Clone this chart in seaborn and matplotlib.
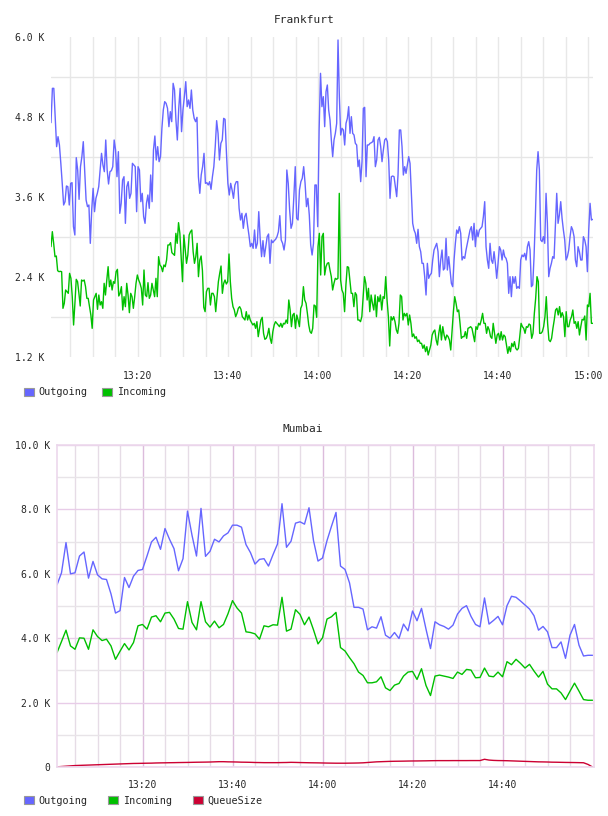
import numpy as np
import pandas as pd
import matplotlib.pyplot as plt
import seaborn as sns
from matplotlib.patches import Patch
from matplotlib.ticker import FixedLocator, FuncFormatter

# Frankfurt: dense samples, read in two halves (13:00:40 -> 14:01:10, 14:01:30 -> 15:01)
fra_half_a = (0.67, 61.18)
fra_half_b = (61.48, 121.04)
fra_outgoing_a = [
    4715, 5230, 5230, 4805, 4355, 4505, 4380, 4105, 3805, 3480, 3530, 3765, 3755, 3480, 3805, 3815,
    3155, 3030, 4190, 4005, 3565, 4055, 4205, 4430, 4005, 3555, 3455, 3480, 2905, 3405, 3730, 3380,
    3580, 3655, 3755, 4005, 4255, 4080, 3980, 4455, 4005, 3795, 3980, 3995, 4055, 4455, 4305, 3905,
    4280, 3355, 3505, 3855, 3905, 3205, 3755, 3830, 3580, 3655, 4105, 4080, 4055, 3380, 4055, 4005,
    3530, 3655, 3305, 3205, 3505, 3630, 3430, 3930, 3530, 4305, 4515, 4155, 4355, 4130, 4205, 4630,
    4905, 5030, 5005, 4930, 4655, 4880, 4730, 5305, 5205, 4755, 4455, 4930, 5230, 4580, 4905, 5105,
    5330, 4955, 5055, 4930, 5205, 4905, 4780, 4730, 4795, 3905, 3655, 3930, 4055, 4255, 3805, 3815,
    3780, 3830, 3715, 3905, 4055, 4355, 4745, 4555, 4155, 4405, 4455, 4780, 4765, 4255, 3805, 3630,
    3805, 3705, 3580, 3780, 3830, 3830, 3430, 3255, 3355, 3130, 3305, 3355, 3180, 3030, 2855, 2905,
    2830, 3105, 2830, 2905, 3380, 2980, 2705, 2945, 2705, 2855, 3005, 3045, 2605, 2955, 2915, 2945,
    2965, 3005, 3080, 3320, 2955, 2905, 2805, 2955, 4005, 3805, 3405, 3130, 3205, 3605, 4055, 3280,
    3255, 3705, 3830, 3880, 4055, 3805, 3455, 3580, 3330, 2880, 2730, 2905, 3780, 3780, 3155, 4605,
    5455, 4955, 5105,
]
fra_outgoing_b = [
    4655, 5180, 5280, 4905, 4755, 4455, 4205, 4455, 4555, 4705, 5955, 5105, 4530, 4630, 4605, 4380,
    4705, 4780, 4955, 4555, 4805, 4555, 4530, 4405, 4380, 4055, 4155, 3830, 4130, 4930, 4945, 3905,
    4380, 4380, 4405, 4415, 4430, 4505, 4055, 4155, 4455, 4495, 4355, 4130, 4305, 4455, 4480, 4430,
    4155, 3580, 3905, 3915, 3905, 3755, 3605, 3930, 4605, 4605, 4355, 3930, 4055, 3955, 4080, 4205,
    4105, 3655, 3205, 3105, 3055, 2905, 3115, 2855, 2780, 2605, 2605, 2405, 2130, 2605, 2380, 2430,
    2455, 2655, 2805, 2855, 2905, 2780, 2405, 2655, 2805, 2505, 2530, 2980, 2505, 2705, 2505, 2305,
    2255, 2655, 2905, 3105, 3055, 3155, 3055, 2655, 2705, 2680, 2805, 2905, 3005, 3105, 3155, 2955,
    3205, 2855, 3105, 3005, 3105, 3130, 3155, 3305, 3530, 2855, 2655, 2530, 2905, 2655, 2605, 2780,
    2605, 2380, 2605, 2855, 2805, 2655, 2805, 2705, 2680, 2605, 2155, 2405, 2105, 2405, 2305, 2405,
    2230, 2255, 2230, 2655, 2730, 2705, 2755, 2655, 2855, 2930, 2805, 2255, 2280, 2705, 3305, 4005,
    4280, 4005, 2955, 2930, 3005, 2905, 3655, 3205, 2405, 2530, 2605, 2705, 2680, 3155, 3655, 3205,
    3330, 3530, 3280, 3105, 2955, 2655, 2705, 2805, 3005, 3155, 3105, 3005, 2655, 2555, 2855, 2780,
    2655, 2655, 3005, 2955, 2855, 2480, 3105, 3505, 3255, 3265,
]
fra_incoming_a = [
    2855, 3080, 2905, 2705, 2715, 2495, 2480, 2485, 2480, 1930, 2005, 2205, 2180, 2155, 2455, 2380,
    2105, 1680, 2005, 2365, 2330, 2155, 1965, 2355, 2340, 2355, 2255, 2080, 2080, 1955, 1830, 1630,
    2055, 2105, 2155, 1915, 2130, 1980, 2030, 1930, 2305, 2130, 2355, 2555, 2255, 2355, 2205, 2330,
    2305, 2480, 2515, 2115, 2155, 2255, 1905, 2105, 1955, 2305, 2130, 1865, 2155, 2105, 1930, 2105,
    2305, 2430, 2355, 2305, 2230, 1980, 2505, 2130, 2105, 2315, 2080, 2130, 2305, 2205, 2105, 2380,
    2105, 2705, 2580, 2555, 2480, 2580, 2555, 2655, 2880, 2880, 2915, 2765, 2745, 2725, 3055, 2905,
    3215, 3055, 2705, 2330, 3030, 2815, 2605, 2730, 3030, 3080, 3105, 2780, 2605, 2705, 2905, 2405,
    2655, 2715, 2495, 1945, 1880, 2180, 2230, 2230, 1980, 2155, 2155, 2105, 1880, 2105, 2330, 2455,
    2565, 2155, 2305, 2355, 2295, 2330, 2745, 2330, 2080, 1955, 1905, 1805, 1855, 1930, 1955, 1915,
    1805, 1780, 1755, 1880, 1755, 1830, 1755, 1715, 1680, 1705, 1630, 1730, 1505, 1630, 1755, 1795,
    1555, 1465, 1480, 1530, 1630, 1480, 1405, 1580, 1680, 1730, 1705, 1680, 1655, 1705, 1645, 1705,
    1695, 1755, 1705, 2055, 1905, 1655, 1830, 1855, 1630, 1830, 1755, 1655, 1930, 1980, 2255, 2055,
    2005, 1855, 1680, 1580, 1555, 1630, 1980, 1965, 1795, 2855, 3055, 2430, 3005, 3055,
]
fra_incoming_b = [
    2430, 2555, 2605, 2615, 2505, 2405, 2205, 2305, 2380, 2365, 2380, 3655, 2355, 2205, 2155, 1880,
    2280, 2555, 2545, 2355, 2155, 2155, 1955, 2165, 2130, 1755, 1755, 1730, 1805, 2105, 2405, 2305,
    2055, 2230, 1880, 2130, 2005, 1905, 2130, 1805, 2105, 2030, 2130, 1905, 2105, 2080, 2405, 2055,
    1805, 1365, 1805, 1755, 1805, 1730, 1605, 1555, 1705, 2130, 2105, 1755, 1855, 1815, 1855, 1680,
    1830, 1705, 1505, 1545, 1480, 1505, 1430, 1455, 1405, 1405, 1330, 1380, 1280, 1355, 1230, 1305,
    1380, 1530, 1580, 1605, 1455, 1380, 1555, 1680, 1455, 1655, 1530, 1455, 1530, 1505, 1455, 1305,
    1605, 1880, 2105, 2005, 1880, 1905, 1705, 1480, 1505, 1505, 1580, 1480, 1630, 1640, 1655, 1630,
    1530, 1430, 1655, 1615, 1705, 1680, 1755, 1855, 1705, 1705, 1555, 1655, 1605, 1505, 1480, 1705,
    1555, 1405, 1530, 1555, 1455, 1580, 1455, 1530, 1505, 1380, 1255, 1355, 1280, 1405, 1355, 1430,
    1330, 1305, 1330, 1505, 1705, 1655, 1630, 1555, 1655, 1645, 1695, 1680, 1480, 1555, 1855, 2080,
    2405, 2330, 1555, 1555, 1580, 1655, 1805, 2105, 1705, 1455, 1430, 1480, 1630, 1755, 1905, 1930,
    1830, 1955, 1795, 1865, 1805, 1505, 1880, 1655, 1655, 1755, 1805, 1905, 1705, 1730, 1630, 1730,
    1530, 1655, 1765, 1755, 1815, 1455, 1980, 1955, 2155, 1705, 1705,
]

# Mumbai: one sample per minute, 13:01 -> 15:00
mum_minutes = list(range(1, 121))
mum_outgoing = [
    5656, 6031, 6969, 6000, 6031, 6552, 6677, 5865, 6385, 5969, 5844, 5823, 5375, 4781, 4854, 5885,
    5573, 5927, 6104, 6135, 6552, 6990, 7135, 6760, 7406, 7073, 6781, 6094, 6469, 7948, 7198, 6552,
    8031, 6542, 6698, 7073, 6990, 7177, 7271, 7510, 7510, 7448, 6906, 6656, 6302, 6448, 6469, 6240,
    6594, 6927, 8177, 6823, 7010, 7573, 7615, 7542, 8052, 7031, 6396, 6490, 7031, 7479, 7906, 6240,
    6135, 5719, 4958, 4958, 4906, 4260, 4354, 4313, 4667, 4094, 4000, 4177, 3990, 4438, 4229, 4844,
    4542, 4927, 4281, 3677, 4510, 4417, 4365, 4281, 4406, 4750, 4927, 5010, 4677, 4427, 4354, 5250,
    4438, 4552, 4677, 4417, 5010, 5302, 5271, 5156, 5031, 4906, 4698, 4250, 4365, 4198, 3708, 3708,
    3885, 3375, 4094, 4427, 3781, 3448, 3469, 3469,
]
mum_incoming = [
    3552, 3896, 4250, 3760, 3656, 4010, 4000, 3656, 4260, 4052, 3927, 3969, 3760, 3344, 3594, 3833,
    3635, 3865, 4385, 4427, 4281, 4656, 4698, 4510, 4781, 4802, 4594, 4302, 4281, 5135, 4490, 4260,
    5135, 4510, 4344, 4531, 4323, 4427, 4760, 5167, 4938, 4781, 4198, 4177, 4135, 3969, 4385, 4354,
    4417, 4406, 5271, 4219, 4281, 4885, 4740, 4417, 4656, 4260, 3823, 4010, 4594, 4667, 4802, 3708,
    3604, 3396, 3208, 2948, 2844, 2615, 2615, 2646, 2802, 2458, 2375, 2542, 2594, 2823, 2948, 2969,
    2719, 3052, 2531, 2219, 2823, 2854, 2823, 2792, 2750, 2948, 2875, 3031, 3010, 2771, 2781, 3073,
    2823, 2802, 2948, 2802, 3271, 3177, 3344, 3219, 3073, 3188, 2979, 2792, 2969, 2573, 2427, 2427,
    2302, 2094, 2354, 2604, 2354, 2094, 2073, 2073,
]
mum_queue = [
    5, 15, 25, 35, 45, 50, 55, 60, 65, 70, 75, 80, 85, 90, 95, 100, 105, 110, 112, 115,
    118, 120, 125, 128, 130, 133, 135, 138, 140, 142, 145, 148, 150, 152, 155, 160, 165, 165, 160, 158,
    155, 150, 148, 145, 140, 138, 135, 135, 135, 135, 138, 140, 145, 142, 138, 135, 132, 130, 128, 125,
    122, 120, 118, 118, 118, 120, 122, 125, 130, 140, 150, 160, 165, 170, 175, 178, 180, 182, 185, 187,
    188, 190, 192, 195, 197, 198, 198, 198, 199, 199, 199, 199, 200, 200, 200, 240, 215, 205, 200, 198,
    195, 190, 185, 180, 175, 170, 165, 160, 158, 155, 150, 148, 145, 142, 140, 138, 135, 132, 80, 0,
]

fra_ticks = [20, 40, 60, 80, 100, 120]
fra_labels = ['13:20', '13:40', '14:00', '14:20', '14:40', '15:00']
mum_ticks = [20, 40, 60, 80, 100]
mum_labels = ['13:20', '13:40', '14:00', '14:20', '14:40']

colors = {'Outgoing': '#6666ff', 'Incoming': '#00c000', 'QueueSize': '#cc0033'}

sns.set_style('white')
plt.rcParams['font.family'] = ['DejaVu Sans Mono', 'DejaVu Sans']
plt.rcParams['font.size'] = 7


def half(values, span, name):
    return pd.DataFrame({'minute': np.linspace(span[0], span[1], len(values)),
                         'value': values, 'series': name})


fra = pd.concat([
    half(fra_outgoing_a, fra_half_a, 'Outgoing'),
    half(fra_outgoing_b, fra_half_b, 'Outgoing'),
    half(fra_incoming_a, fra_half_a, 'Incoming'),
    half(fra_incoming_b, fra_half_b, 'Incoming'),
], ignore_index=True)
mum = pd.concat([
    pd.DataFrame({'minute': mum_minutes, 'value': mum_outgoing, 'series': 'Outgoing'}),
    pd.DataFrame({'minute': mum_minutes, 'value': mum_incoming, 'series': 'Incoming'}),
    pd.DataFrame({'minute': mum_minutes, 'value': mum_queue, 'series': 'QueueSize'}),
], ignore_index=True)

fig = plt.figure(figsize=(6.08, 8.16), dpi=100)


def k_fmt(v, _):
    return '0' if v == 0 else f'{v / 1000:.1f} K'


# ---- Frankfurt ----
ax1 = fig.add_axes([51 / 608, 1 - 357 / 816, 542 / 608, 320 / 816])
sns.lineplot(data=fra, x='minute', y='value', hue='series', palette=colors,
             linewidth=1, legend=False, sort=True, ax=ax1)
ax1.set_xlim(0.67, 121.1)
ax1.set_ylim(1200, 6000)
ax1.set_yticks([1200, 2400, 3600, 4800, 6000])
ax1.yaxis.set_major_formatter(FuncFormatter(k_fmt))
ax1.yaxis.set_minor_locator(FixedLocator([1800, 3000, 4200, 5400]))
ax1.set_xticks(fra_ticks)
ax1.set_xticklabels(fra_labels)
ax1.xaxis.set_minor_locator(FixedLocator([m for m in range(5, 121, 5) if m % 20]))
ax1.grid(False)
ax1.grid(True, which='both', axis='x', color='#e8e8e8', linewidth=1)
ax1.grid(True, which='minor', axis='y', color='#e6e6e6', linewidth=1)
for s in ax1.spines.values():
    s.set_visible(False)
ax1.tick_params(which='both', length=0)
ax1.tick_params(axis='y', pad=5)
ax1.tick_params(axis='x', pad=10)
ax1.set_xlabel('')
ax1.set_ylabel('')
ax1.set_axisbelow(True)
fig.text(304 / 608, 1 - 20 / 816, 'Frankfurt', ha='center', va='center', fontsize=8)

# ---- Mumbai ----
ax2 = fig.add_axes([57 / 608, 1 - 767 / 816, 537 / 608, 322 / 816])
sns.lineplot(data=mum, x='minute', y='value', hue='series', palette=colors,
             linewidth=1, legend=False, ax=ax2)
ax2.set_xlim(1, 120.33)
ax2.set_ylim(0, 10000)
ax2.set_yticks(range(0, 10001, 2000))
ax2.yaxis.set_major_formatter(FuncFormatter(k_fmt))
ax2.yaxis.set_minor_locator(FixedLocator(range(1000, 10000, 2000)))
ax2.set_xticks(mum_ticks)
ax2.set_xticklabels(mum_labels)
ax2.xaxis.set_minor_locator(FixedLocator([m for m in range(5, 120, 5) if m % 20]))
ax2.grid(False)
ax2.grid(True, which='major', axis='x', color='#dcbcdc', linewidth=1)
ax2.grid(True, which='minor', axis='x', color='#e6dce6', linewidth=1)
ax2.grid(True, which='major', axis='y', color='#e8cce8', linewidth=1)
ax2.grid(True, which='minor', axis='y', color='#e8e4e8', linewidth=1)
for s in ax2.spines.values():
    s.set_visible(True)
    s.set_color('#ecd8ec')
    s.set_linewidth(1.2)
ax2.tick_params(which='both', length=0)
ax2.tick_params(axis='y', pad=5)
ax2.tick_params(axis='x', pad=9)
ax2.set_xlabel('')
ax2.set_ylabel('')
ax2.set_axisbelow(True)
fig.text(303 / 608, 1 - 429 / 816, 'Mumbai', ha='center', va='center', fontsize=8)


# ---- legends ----
def make_handles(names):
    return [Patch(facecolor=colors[n], edgecolor='#999999', linewidth=0.8, label=n) for n in names]


legend_kw = dict(loc='center left', frameon=False, fontsize=7.3, handlelength=0.95,
                 handleheight=0.95, handletextpad=0.45, borderaxespad=0, borderpad=0)
fig.legend(handles=make_handles(['Outgoing', 'Incoming']),
           bbox_to_anchor=(24 / 608, 1 - 392.5 / 816), ncol=2, columnspacing=1.5, **legend_kw)
fig.legend(handles=make_handles(['Outgoing', 'Incoming', 'QueueSize']),
           bbox_to_anchor=(24 / 608, 1 - 800.5 / 816), ncol=3, columnspacing=2.1, **legend_kw)

fig.savefig('out.png', dpi=100)
